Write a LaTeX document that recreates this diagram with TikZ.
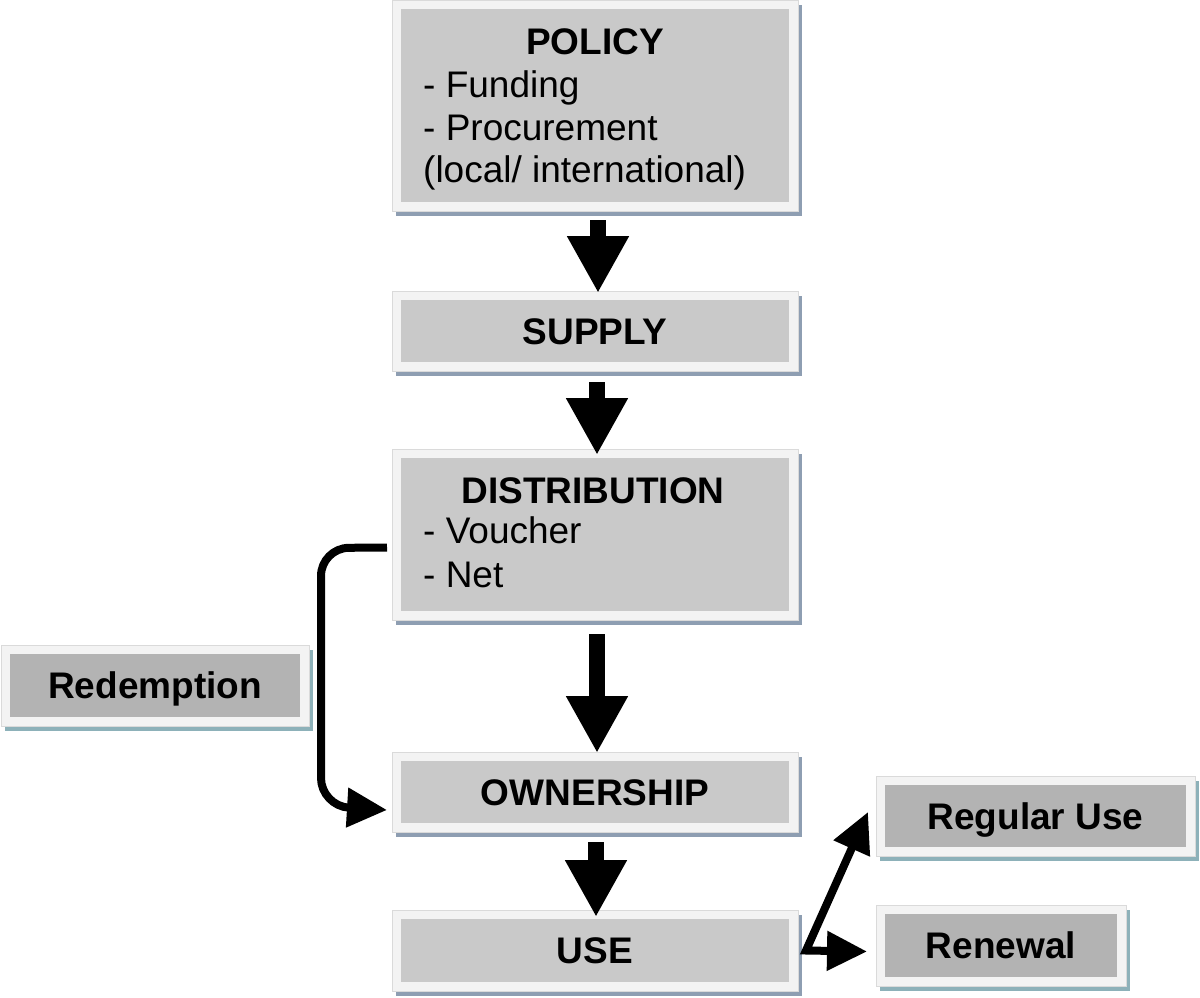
\documentclass[tikz,border=0pt]{standalone}
\usepackage{fontspec}
\setmainfont{Liberation Sans}
\usetikzlibrary{arrows.meta,shadows}
\definecolor{framec}{HTML}{F3F3F3}
\definecolor{framed}{HTML}{DADADA}
\definecolor{innermain}{HTML}{C9C9C9}
\definecolor{innerside}{HTML}{B3B3B3}
\definecolor{shadmain}{HTML}{8E9EB2}
\definecolor{shadside}{HTML}{8DB1B9}
\begin{document}
\begin{tikzpicture}[x=1pt,y=-1pt,
  font=\fontsize{37}{43}\selectfont,
  boxbase/.style={rectangle, fill=framec, draw=framed, line width=0.6pt,
    inner sep=0pt, outer sep=0pt, text height=26.5pt, text depth=0pt,
    font=\fontsize{37}{43}\selectfont\bfseries},
  mainbox/.style={boxbase, general shadow={fill=shadmain, shadow xshift=4pt, shadow yshift=-5pt},
    path picture={\fill[innermain] ([shift={(9pt,9pt)}]path picture bounding box.south west)
      rectangle ([shift={(-9pt,-9pt)}]path picture bounding box.north east);}},
  sidebox/.style={boxbase, general shadow={fill=shadside, shadow xshift=4pt, shadow yshift=-5pt},
    path picture={\fill[innerside] ([shift={(9pt,9pt)}]path picture bounding box.south west)
      rectangle ([shift={(-9pt,-9pt)}]path picture bounding box.north east);}},
  title/.style={anchor=base, inner sep=0pt, font=\fontsize{37}{43}\selectfont\bfseries},
  item/.style={anchor=base west, inner sep=0pt, font=\fontsize{37}{43}\selectfont},
  bigarrow/.style={line width=16pt, -{Triangle[width=58pt,length=57pt]}},
  thinarrow/.style={line width=8pt, -{Triangle[width=38pt,length=40pt]}},
]
\useasboundingbox (0,0) rectangle (1200,998);

% main boxes
\node[mainbox, minimum width=406pt, minimum height=211pt] (policy) at (595,105.5) {};
\node[mainbox, minimum width=406pt, minimum height=80pt] (supply) at (595,331) {SUPPLY};
\node[mainbox, minimum width=406pt, minimum height=171pt] (distribution) at (595,534.5) {};
\node[mainbox, minimum width=406pt, minimum height=80pt] (ownership) at (595,792) {OWNERSHIP};
\node[mainbox, minimum width=406pt, minimum height=81pt] (use) at (595,950.5) {USE};

% side boxes
\node[sidebox, minimum width=308pt, minimum height=81pt] (redemption) at (155,685.5) {Redemption};
\node[sidebox, minimum width=319pt, minimum height=80pt] (reguse) at (1035.5,816) {Regular Use};
\node[sidebox, minimum width=250pt, minimum height=81pt] (renewal) at (1001,945.5) {Renewal};

% texts of the multi-line boxes
\node[title] (policytitle) at (595,55) {POLICY};
\node[item] (funding) at (423,97) {- Funding};
\node[item] (procurement) at (423,140) {- Procurement};
\node[item] (local) at (423,182) {(local/ international)};

\node[title] (disttitle) at (593,503) {DISTRIBUTION};
\node[item] (voucher) at (423,543) {- Voucher};
\node[item] (net) at (423,587) {- Net};

% vertical arrows
\draw[bigarrow] ([shift={(3pt,-9pt)}]policy.south) -- ([shift={(3pt,-2pt)}]supply.north);
\draw[bigarrow] ([shift={(2pt,-11pt)}]supply.south) -- ([shift={(2pt,-6pt)}]distribution.north);
\draw[bigarrow] ([shift={(2pt,-14pt)}]distribution.south) -- ([shift={(2pt,-1pt)}]ownership.north);
\draw[bigarrow] ([shift={(1pt,-10pt)}]ownership.south) -- ([shift={(1pt,-7pt)}]use.north);

% redemption loop
\draw[thinarrow, rounded corners=28pt]
  ([shift={(-5pt,-13pt)}]distribution.west) -- (321,548) -- (321,806)
  -- ([shift={(-5pt,-18pt)}]ownership.west);

% use fork
\coordinate (fork) at ([shift={(8pt,0pt)}]use.east);
\draw[line width=8pt, line join=miter, {Triangle[width=38pt,length=40pt]}-{Triangle[width=38pt,length=40pt]}]
  ([shift={(-8pt,4pt)}]reguse.west) -- (fork) -- ([shift={(-9pt,-6pt)}]renewal.west);
\end{tikzpicture}
\end{document}
